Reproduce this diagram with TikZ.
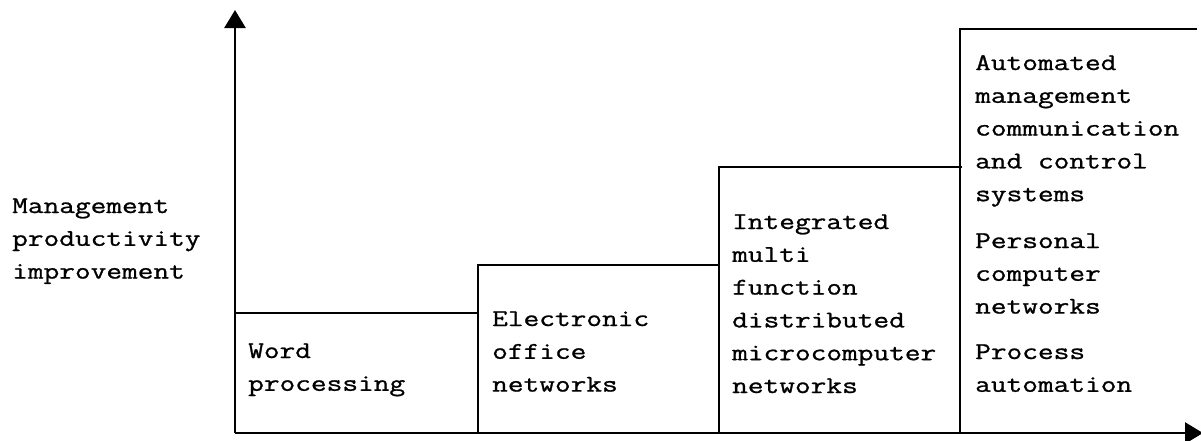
\documentclass[tikz,border=0pt]{standalone}
\usepackage{graphicx}
\usepackage{fontspec}
\setmonofont{lmmono12-regular}[Extension=.otf, FakeBold=0.9]
\usetikzlibrary{arrows.meta}

% typewriter block: stacked lines, widened to a typewriter pitch
\newcommand{\typed}[1]{\scalebox{1.27}[1]{\begin{tabular}[t]{@{}l@{}}#1\end{tabular}}}

\tikzset{
  axisline/.style={line width=2.6pt, -{Triangle[length=18pt,width=21pt]}},
  stepline/.style={line width=2.4pt},
  typetext/.style={anchor=base west, inner sep=0pt,
                   font=\fontsize{24}{32.8}\selectfont\ttfamily},
}

\begin{document}
\begin{tikzpicture}[x=1pt,y=-1pt]
\useasboundingbox (0,0) rectangle (1201,440);

% axes
\coordinate (origin) at (235,433);
\coordinate (ytop)   at (235,10);
\coordinate (xend)   at (1203,433);
\draw[axisline] (origin) -- (ytop);
\draw[axisline] (origin) -- (xend);

% staircase of stages
\draw[stepline] (235,313) -- (478,313);
\draw[stepline] (478,433) -- (478,265) -- (719,265);
\draw[stepline] (719,433) -- (719,167) -- (962,167);
\draw[stepline] (960,433) -- (960,29) -- (1197,29);

% vertical axis label
\node[typetext] (ylab) at (12,213) {\typed{Management\\productivity\\improvement}};

% stage contents
\node[typetext] (wp)  at (248,358) {\typed{Word\\processing}};
\node[typetext] (eon) at (492,326) {\typed{Electronic\\office\\networks}};
\node[typetext] (imf) at (732,229) {\typed{Integrated\\multi\\function\\distributed\\microcomputer\\networks}};
\node[typetext] (amc) at (975,70)  {\typed{Automated\\management\\communication\\and control\\systems}};
\node[typetext] (pcn) at (975,248) {\typed{Personal\\computer\\networks}};
\node[typetext] (pa)  at (975,359) {\typed{Process\\automation}};
\end{tikzpicture}
\end{document}
